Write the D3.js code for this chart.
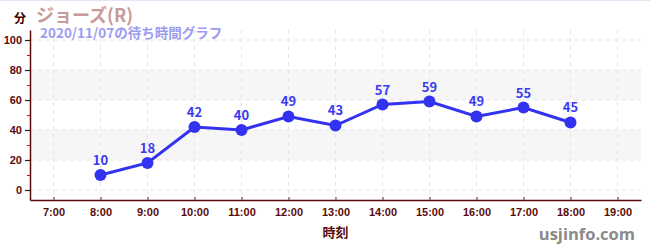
<!DOCTYPE html>
<html>
<head>
<meta charset="utf-8">
<script src="https://cdn.jsdelivr.net/npm/d3@7"></script>
<style>
  html, body { margin: 0; padding: 0; background: #fff; }
  body { width: 650px; height: 250px; overflow: hidden; border-top: 1px solid #e4e6f8; box-sizing: border-box; }
  svg { display: block; font-family: "Noto Sans CJK JP", "Noto Sans", sans-serif; }
</style>
</head>
<body>
<div id="canvas-wrapper"></div>
<script>
// chart data
var hours = [8, 9, 10, 11, 12, 13, 14, 15, 16, 17, 18];
var waits = [10, 18, 42, 40, 49, 43, 57, 59, 49, 55, 45];
var hourTicks = [7, 8, 9, 10, 11, 12, 13, 14, 15, 16, 17, 18, 19];
var yTicks = [0, 20, 40, 60, 80, 100];
var yMinorTicks = [10, 30, 50, 70, 90];
var bands = [[20, 40], [60, 80]];
var title = "ジョーズ(R)";
var subtitle = "2020/11/07の待ち時間グラフ";

var width = 650, height = 249;
var svg = d3.select("#canvas-wrapper").append("svg")
    .attr("width", width)
    .attr("height", height);

var x = d3.scaleLinear().domain([6.5, 19.5]).range([30, 641]);
var y = d3.scaleLinear().domain([-6.67, 106.67]).range([199, 29]);

var axisColor = "#5a0a0a";

// background bands
svg.selectAll("rect.band")
    .data(bands)
  .enter().append("rect")
    .attr("class", "band")
    .attr("x", x(6.5))
    .attr("width", x(19.5) - x(6.5))
    .attr("y", function(d) { return y(d[1]); })
    .attr("height", function(d) { return y(d[0]) - y(d[1]); })
    .attr("fill", "#f6f6f6");

// dashed gridlines
svg.append("g").selectAll("line")
    .data(yTicks)
  .enter().append("line")
    .attr("x1", x(6.5)).attr("x2", x(19.5))
    .attr("y1", function(d) { return y(d); })
    .attr("y2", function(d) { return y(d); })
    .attr("stroke", "#e6e6e6")
    .attr("stroke-dasharray", "4,4");

svg.append("g").selectAll("line")
    .data(hourTicks)
  .enter().append("line")
    .attr("x1", function(d) { return x(d); })
    .attr("x2", function(d) { return x(d); })
    .attr("y1", y(106.67)).attr("y2", y(-6.67))
    .attr("stroke", "#e6e6e6")
    .attr("stroke-dasharray", "4,4");

// x axis
var xAxis = svg.append("g")
    .attr("transform", "translate(0," + y(-6.67) + ")")
    .call(d3.axisBottom(x)
      .tickValues(hourTicks)
      .tickSizeInner(-3)
      .tickSizeOuter(0)
      .tickPadding(6)
      .tickFormat(function(d) { return d + ":00"; }));
xAxis.select(".domain").attr("stroke", axisColor).attr("stroke-width", 1.5);
xAxis.selectAll(".tick line").attr("stroke", "#777").attr("stroke-width", 1.5);
xAxis.selectAll(".tick text")
    .attr("fill", axisColor)
    .attr("font-size", 11)
    .attr("font-weight", "bold")
    .attr("font-family", "'Liberation Sans', sans-serif")
    .attr("dy", "0.9em");

// y axis
var yAxis = svg.append("g")
    .attr("transform", "translate(" + x(6.5) + ",0)")
    .call(d3.axisLeft(y)
      .tickValues(yTicks)
      .tickSize(5)
      .tickSizeOuter(0)
      .tickPadding(3));
yAxis.select(".domain").attr("stroke", axisColor).attr("stroke-width", 1.5);
yAxis.selectAll(".tick line").attr("stroke", "#222").attr("stroke-width", 1.2);
yAxis.selectAll(".tick text")
    .attr("fill", axisColor)
    .attr("font-size", 11)
    .attr("font-weight", "bold")
    .attr("font-family", "'Liberation Sans', sans-serif");

svg.append("g")
    .attr("transform", "translate(" + x(6.5) + ",0)")
    .call(d3.axisLeft(y).tickValues(yMinorTicks).tickSize(3).tickFormat(""))
  .call(function(g) { g.select(".domain").remove(); })
  .selectAll(".tick line").attr("stroke", "#d01010");

// line + points
var line = d3.line()
    .x(function(d, i) { return x(hours[i]); })
    .y(function(d) { return y(d); });

svg.append("path")
    .datum(waits)
    .attr("fill", "none")
    .attr("stroke", "#3232f0")
    .attr("stroke-width", 3)
    .attr("d", line);

svg.selectAll("circle.pt")
    .data(waits)
  .enter().append("circle")
    .attr("class", "pt")
    .attr("cx", function(d, i) { return x(hours[i]); })
    .attr("cy", function(d) { return y(d); })
    .attr("r", 6)
    .attr("fill", "#3232f0");

svg.selectAll("text.val")
    .data(waits)
  .enter().append("text")
    .attr("class", "val")
    .attr("x", function(d, i) { return x(hours[i]); })
    .attr("y", function(d) { return y(d) - 10; })
    .attr("text-anchor", "middle")
    .attr("font-size", 13)
    .attr("font-weight", "bold")
    .attr("fill", "#3a3af0")
    .text(function(d) { return d; });

// titles
svg.append("text")
    .attr("x", 14).attr("y", 22)
    .attr("font-size", 12)
    .attr("font-weight", "bold")
    .attr("fill", "#3a0000")
    .text("分");

svg.append("text")
    .attr("x", 36).attr("y", 21)
    .attr("font-size", 18)
    .attr("font-weight", "bold")
    .attr("fill", "#c99a9a")
    .text(title);

svg.append("text")
    .attr("x", 40).attr("y", 37)
    .attr("font-size", 13.5)
    .attr("font-weight", "bold")
    .attr("fill", "#9c9cf0")
    .text(subtitle);

svg.append("text")
    .attr("x", x(13)).attr("y", 236)
    .attr("text-anchor", "middle")
    .attr("font-size", 13)
    .attr("font-weight", "bold")
    .attr("fill", axisColor)
    .text("時刻");

svg.append("text")
    .attr("x", 635).attr("y", 239)
    .attr("text-anchor", "end")
    .attr("font-size", 16.5)
    .attr("font-weight", "bold")
    .attr("fill", "#8a8a8a")
    .attr("font-family", "'Open Sans', sans-serif")
    .text("usjinfo.com");
</script>
</body>
</html>
